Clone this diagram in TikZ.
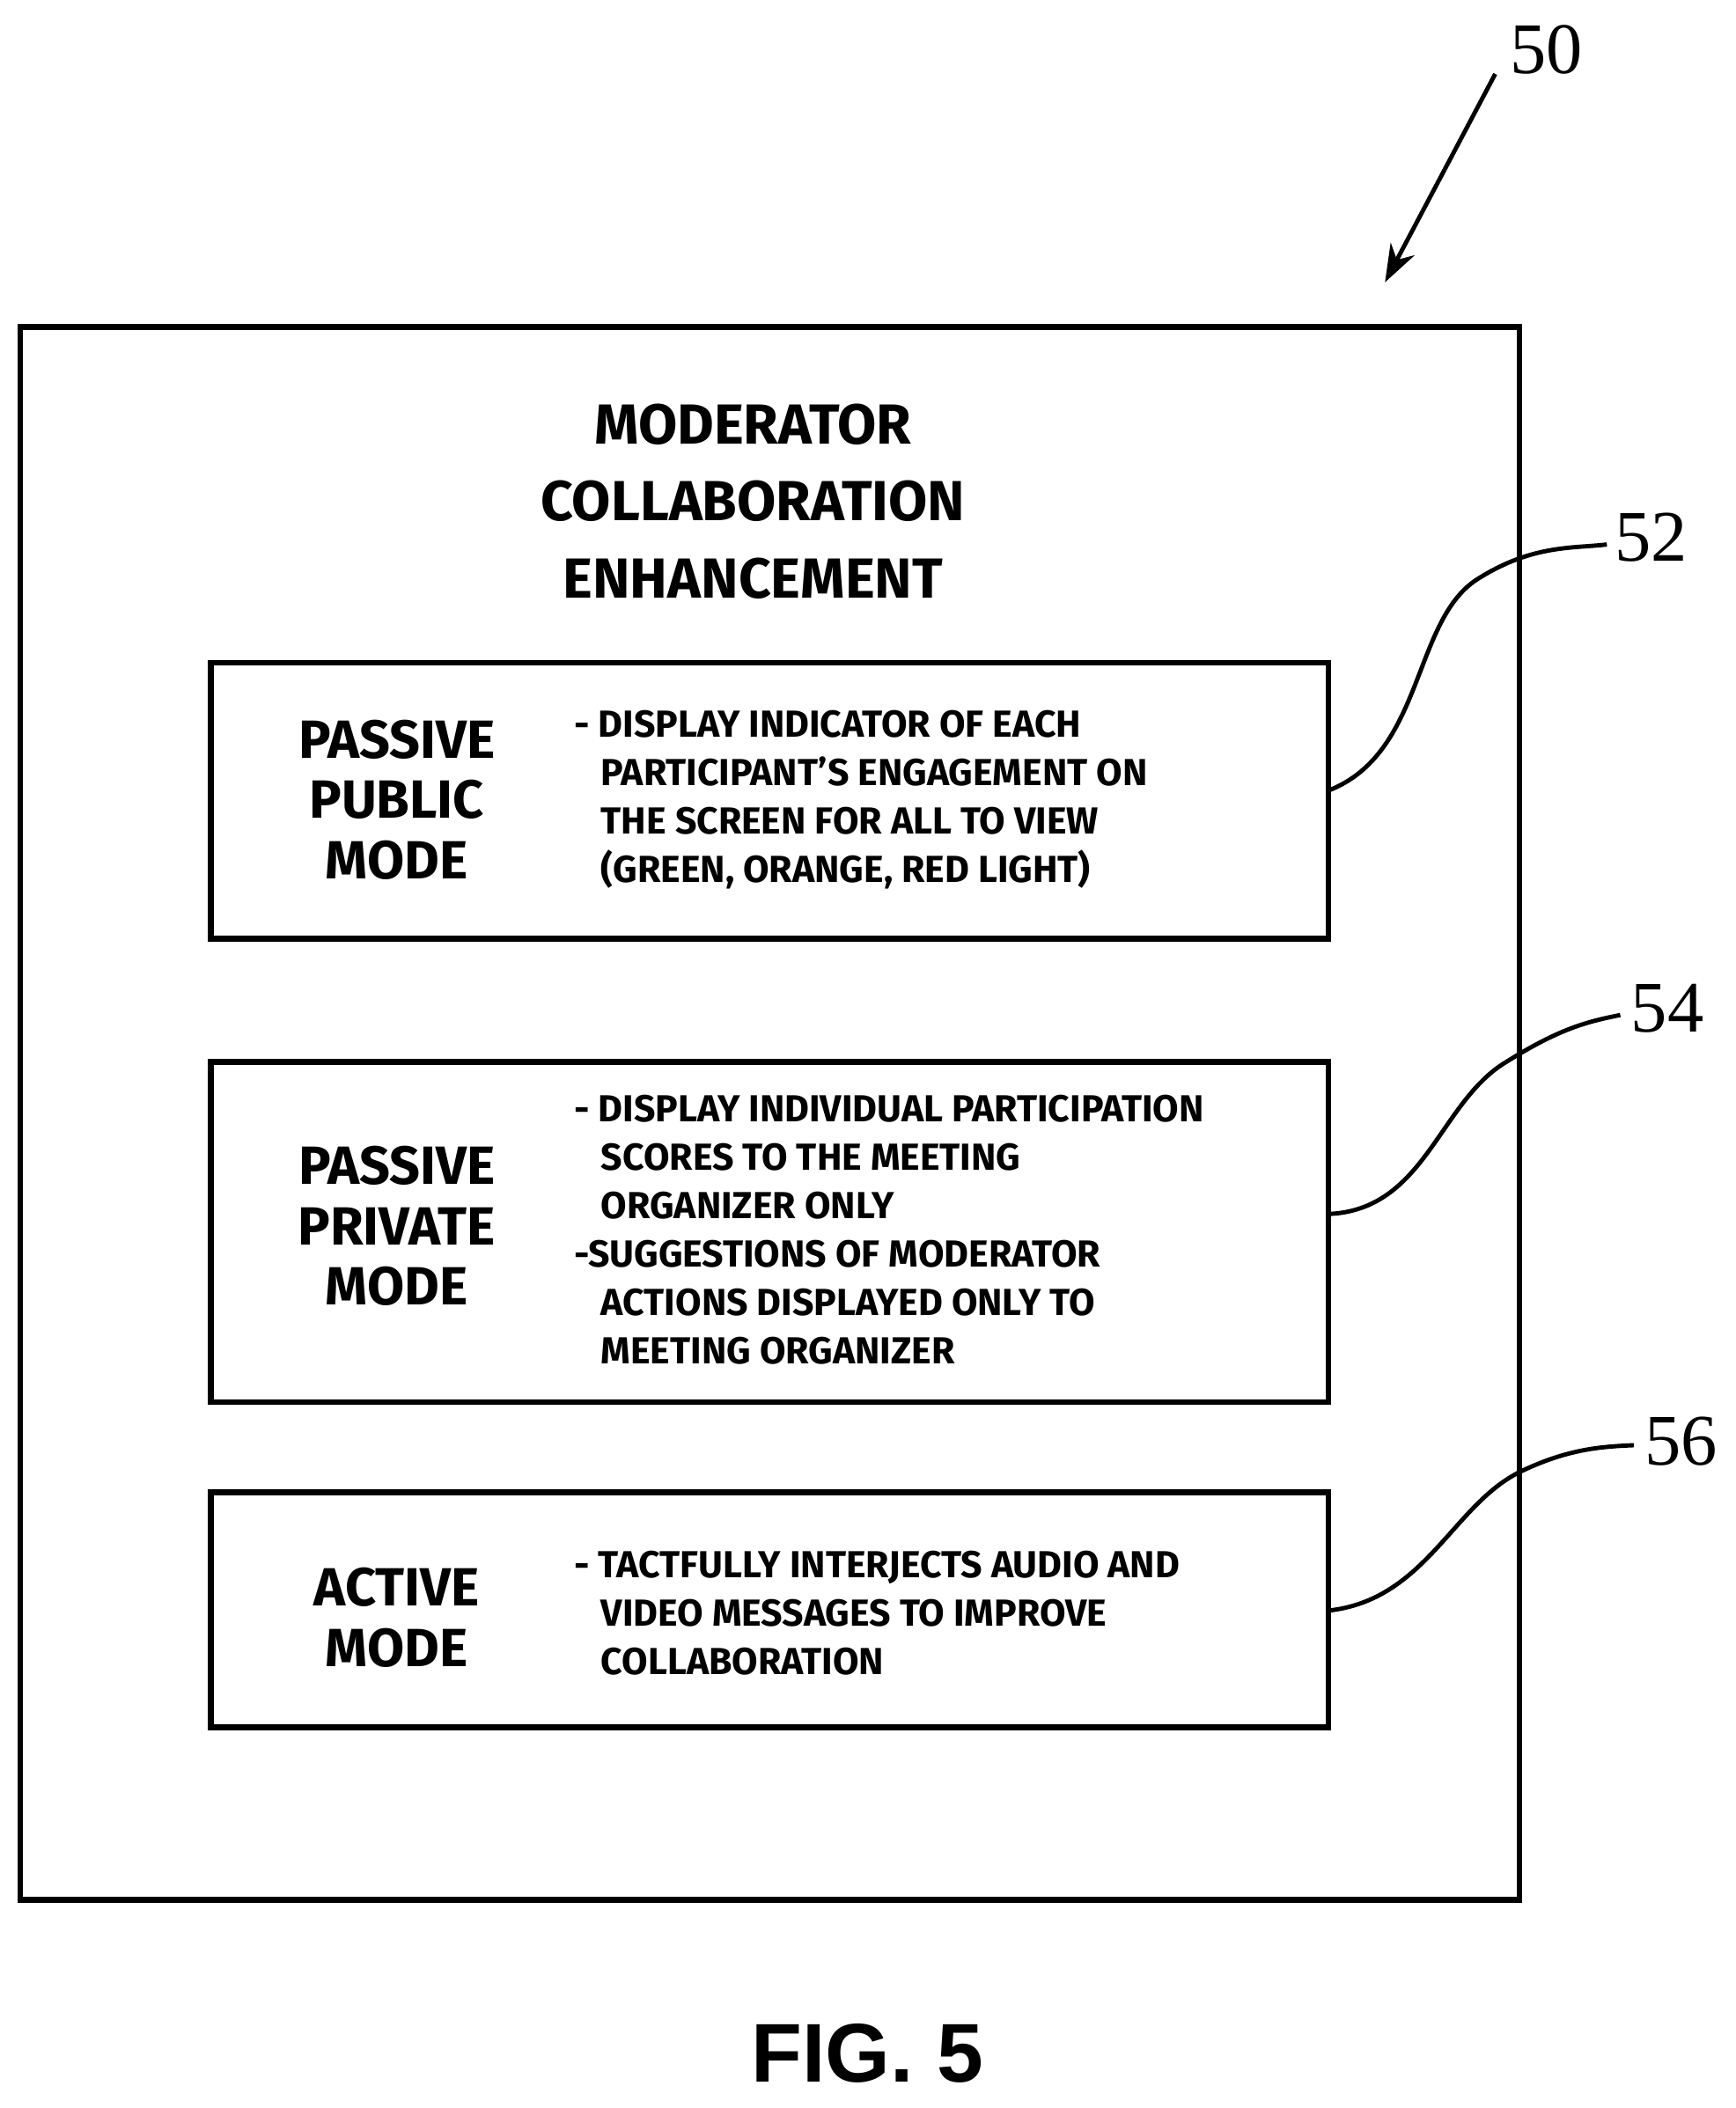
\documentclass[tikz,border=0pt]{standalone}
\usetikzlibrary{arrows.meta}
\usepackage{fontspec}
\setmainfont{Fira Sans}
\newfontfamily\numfont{Liberation Serif}
\newfontfamily\figfont{Liberation Sans}
\begin{document}
\begin{tikzpicture}[x=0.5pt,y=-0.5pt,
  box/.style={draw,line width=2.2pt},
  lead/.style={line width=1.6pt},
  mode/.style={font=\fontsize{20}{22.5}\selectfont\bfseries,align=center},
  body/.style={font=\fontsize{14}{18}\selectfont\bfseries,align=left,anchor=west},
  num/.style={font=\fontsize{27}{27}\selectfont\numfont}]
\useasboundingbox (0,0) rectangle (1291,1568);
\draw[box] (15,243) rectangle (1130,1413);
\node[font=\fontsize{21}{28.5}\selectfont\bfseries,align=center] (title) at (560,373) {MODERATOR\\COLLABORATION\\ENHANCEMENT};
\draw[box] (157,493) rectangle (988,698);
\draw[box] (157,790) rectangle (988,1043);
\draw[box] (157,1110) rectangle (988,1285);
\coordinate (b1) at (988,588);
\coordinate (b2) at (988,903);
\coordinate (b3) at (988,1198);
\node[mode] (m1) at (295,595) {PASSIVE\\PUBLIC\\MODE};
\node[mode] (m2) at (295,912) {PASSIVE\\PRIVATE\\MODE};
\node[mode] (m3) at (295,1203) {ACTIVE\\MODE};
\node[body] (t1) at (420,595) {- DISPLAY INDICATOR OF EACH\\\hspace*{10pt}PARTICIPANT'S ENGAGEMENT ON\\\hspace*{10pt}THE SCREEN FOR ALL TO VIEW\\\hspace*{10pt}(GREEN, ORANGE, RED LIGHT)};
\node[body] (t2) at (420,915) {- DISPLAY INDIVIDUAL PARTICIPATION\\\hspace*{10pt}SCORES TO THE MEETING\\\hspace*{10pt}ORGANIZER ONLY\\-SUGGESTIONS OF MODERATOR\\\hspace*{10pt}ACTIONS DISPLAYED ONLY TO\\\hspace*{10pt}MEETING ORGANIZER};
\node[body] (t3) at (420,1200) {- TACTFULLY INTERJECTS AUDIO AND\\\hspace*{10pt}VIDEO MESSAGES TO IMPROVE\\\hspace*{10pt}COLLABORATION};
\node[num] (n50) at (1150,37) {50};
\node[num] (n52) at (1228,400) {52};
\node[num] (n54) at (1240,750) {54};
\node[num] (n56) at (1250,1072) {56};
\coordinate (a50) at (1112,55);
\coordinate (e50) at (1030,210);
\draw[lead,-{Stealth[length=14pt,width=10pt]}] (a50) -- (e50);
\draw[lead] (b1) .. controls (1060,560) and (1050,460) .. (1100,430) .. controls (1140,405) and (1170,408) .. (1195,405);
\draw[lead] (b2) .. controls (1060,900) and (1070,820) .. (1120,790) .. controls (1160,765) and (1180,760) .. (1205,755);
\draw[lead] (b3) .. controls (1060,1190) and (1080,1120) .. (1130,1095) .. controls (1165,1078) and (1190,1076) .. (1215,1075);
\node[font=\fontsize{31}{31}\selectfont\figfont\bfseries] (fig) at (645,1527) {FIG. 5};
\end{tikzpicture}
\end{document}
